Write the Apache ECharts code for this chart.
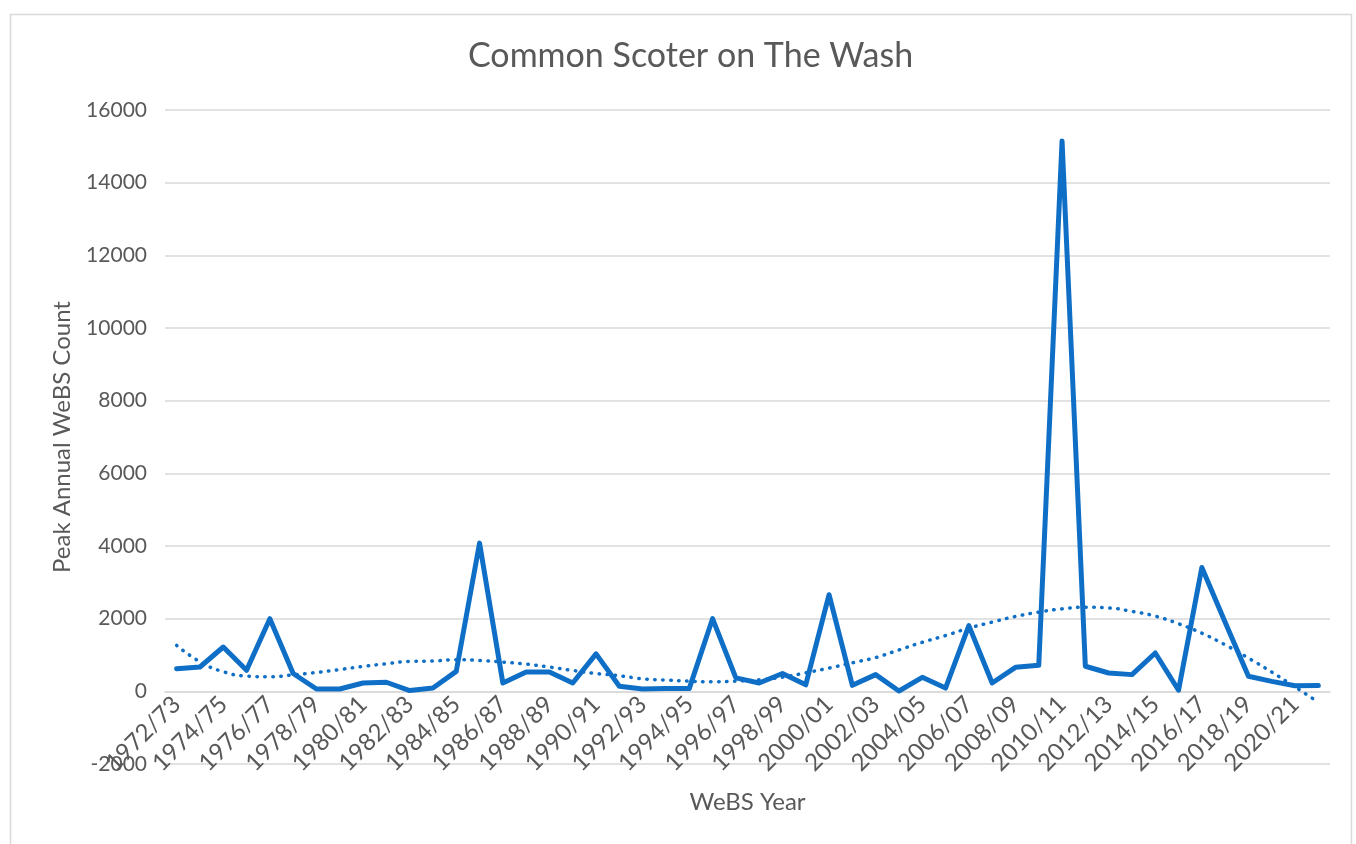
<!DOCTYPE html>
<html>
<head>
<meta charset="utf-8">
<title>Common Scoter on The Wash</title>
<script src="https://cdn.jsdelivr.net/npm/echarts@6/dist/echarts.min.js"></script>
<style>
  html, body { margin: 0; padding: 0; background: #ffffff; }
  #chart { width: 1356px; height: 844px; }
</style>
</head>
<body>
<div id="chart"></div>
<script>
// WeBS seasons, 1972/73 to 2021/22
const seasons = [
  '1972/73','1973/74','1974/75','1975/76','1976/77','1977/78','1978/79','1979/80','1980/81','1981/82',
  '1982/83','1983/84','1984/85','1985/86','1986/87','1987/88','1988/89','1989/90','1990/91','1991/92',
  '1992/93','1993/94','1994/95','1995/96','1996/97','1997/98','1998/99','1999/00','2000/01','2001/02',
  '2002/03','2003/04','2004/05','2005/06','2006/07','2007/08','2008/09','2009/10','2010/11','2011/12',
  '2012/13','2013/14','2014/15','2015/16','2016/17','2017/18','2018/19','2019/20','2020/21','2021/22'
];

// Peak annual WeBS count of Common Scoter
const peakCounts = [
  620, 670, 1220, 580, 2000, 490, 65, 65, 230, 250,
  20, 90, 550, 4080, 230, 530, 530, 230, 1030, 140,
  65, 75, 75, 2000, 370, 230, 490, 180, 2660, 165,
  460, 10, 385, 90, 1810, 230, 660, 715, 15150, 690,
  505, 460, 1055, 30, 3410, 1900, 415, 275, 155, 160
];

// Polynomial trend line through the counts
const trendCounts = [
  1265, 815, 540, 420, 400, 455, 520, 600, 685, 760,
  825, 835, 870, 850, 805, 750, 668, 575, 490, 430,
  345, 310, 280, 262, 280, 317, 390, 510, 640, 786,
  930, 1140, 1350, 1535, 1740, 1905, 2060, 2180, 2270, 2315,
  2295, 2200, 2070, 1860, 1600, 1280, 915, 530, 120, -300
];

// Value axis ticks
const yMin = -2000;
const yMax = 16000;
const yStep = 2000;

const textColor = '#595959';
const gridColor = '#D9D9D9';
const lineColor = '#0F6FC6';
const fontFamily = 'Lato, "Open Sans", sans-serif';

// Plot area
const gridTop = 110;
const gridBottom = 80;
const plotHeight = 844 - gridTop - gridBottom;
// Category axis sits on the zero line of the value axis
const xAxisOffset = -plotHeight * (0 - yMin) / (yMax - yMin);

const chart = echarts.init(document.getElementById('chart'), null, { renderer: 'canvas' });

chart.setOption({
  animation: false,
  backgroundColor: '#ffffff',
  textStyle: { fontFamily: fontFamily },
  graphic: [{
    type: 'rect',
    left: 8, top: 12,
    shape: { width: 1341, height: 900 },
    style: { fill: 'none', stroke: gridColor, lineWidth: 1.5 },
    silent: true
  }],
  title: {
    text: 'Common Scoter on The Wash',
    left: 463,
    top: 34,
    textStyle: { color: textColor, fontSize: 34, fontWeight: 'normal', fontFamily: fontFamily }
  },
  grid: {
    left: 165, right: 26, top: gridTop, bottom: gridBottom,
    containLabel: false,
    outerBoundsMode: 'none'
  },
  xAxis: {
    type: 'category',
    data: seasons,
    boundaryGap: true,
    offset: xAxisOffset,
    name: 'WeBS Year',
    nameLocation: 'middle',
    nameGap: 99,
    nameMoveOverlap: false,
    nameTextStyle: { color: textColor, fontSize: 24, fontFamily: fontFamily },
    axisLine: { show: true, onZero: false, lineStyle: { color: gridColor, width: 1.5 } },
    axisTick: { show: false },
    axisLabel: {
      interval: 1,
      rotate: 45,
      color: textColor,
      fontSize: 24,
      margin: 9,
      fontFamily: fontFamily
    },
    splitLine: { show: false }
  },
  yAxis: {
    type: 'value',
    min: yMin,
    max: yMax,
    interval: yStep,
    name: 'Peak Annual WeBS Count',
    nameLocation: 'middle',
    nameGap: 91,
    nameRotate: 90,
    nameMoveOverlap: false,
    nameTextStyle: { color: textColor, fontSize: 24, fontFamily: fontFamily },
    axisLine: { show: false },
    axisTick: { show: false },
    axisLabel: {
      color: textColor,
      fontSize: 21,
      margin: 18,
      fontFamily: fontFamily,
      formatter: function (v) { return String(v); }
    },
    splitLine: { show: true, lineStyle: { color: gridColor, width: 1.5 } }
  },
  series: [
    {
      name: 'Common Scoter',
      type: 'line',
      data: peakCounts,
      showSymbol: false,
      lineStyle: { color: lineColor, width: 5, join: 'round', cap: 'round' },
      itemStyle: { color: lineColor },
      z: 3
    },
    {
      name: 'Trend',
      type: 'line',
      data: trendCounts,
      smooth: true,
      showSymbol: false,
      lineStyle: { color: lineColor, width: 3.5, type: [0.5, 7.5], cap: 'round' },
      itemStyle: { color: lineColor },
      z: 2
    }
  ]
});
</script>
</body>
</html>
